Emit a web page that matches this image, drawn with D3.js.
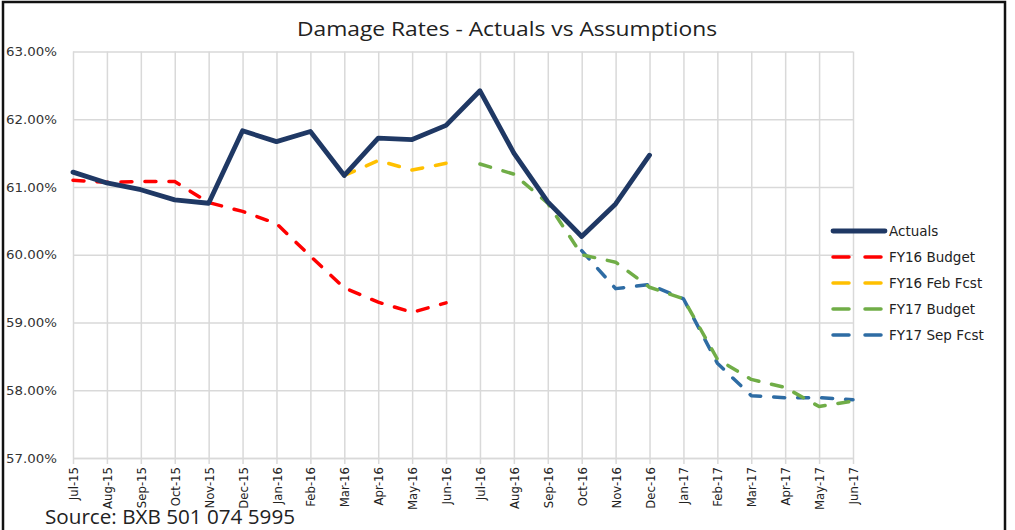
<!DOCTYPE html>
<html>
<head>
<meta charset="utf-8">
<script src="https://cdn.jsdelivr.net/npm/d3@7"></script>
<style>
	body { margin: 0; background: #fff; }
	svg { display: block; }
</style>
</head>
<body>
<svg id="chart" width="1015" height="530"></svg>
<script>
const months = ["Jul-15", "Aug-15", "Sep-15", "Oct-15", "Nov-15", "Dec-15", "Jan-16", "Feb-16",
	"Mar-16", "Apr-16", "May-16", "Jun-16", "Jul-16", "Aug-16", "Sep-16", "Oct-16", "Nov-16",
	"Dec-16", "Jan-17", "Feb-17", "Mar-17", "Apr-17", "May-17", "Jun-17"];

const actuals = [61.22, 61.06, 60.96, 60.81, 60.76, 61.83, 61.67, 61.82, 61.17, 61.72, 61.70, 61.91,
	62.42, 61.50, 60.78, 60.27, 60.75, 61.47, null, null, null, null, null, null];
const fy16Budget = [61.10, 61.07, 61.08, 61.08, 60.77, 60.64, 60.46, 59.98, 59.51, 59.30, 59.15, 59.29,
	null, null, null, null, null, null, null, null, null, null, null, null];
const fy16FebFcst = [null, null, null, null, null, null, null, null, 61.17, 61.39, 61.25, 61.35,
	null, null, null, null, null, null, null, null, null, null, null, null];
const fy17Budget = [null, null, null, null, null, null, null, null, null, null, null, null,
	61.34, 61.19, 60.76, 60.00, 59.89, 59.52, 59.35, 58.46, 58.16, 58.04, 57.76, 57.84];
const fy17SepFcst = [null, null, null, null, null, null, null, null, null, null, null, null,
	null, null, null, 60.06, 59.50, 59.56, 59.35, 58.40, 57.92, 57.89, 57.89, 57.86];

const yTicks = [57, 58, 59, 60, 61, 62, 63];

const series = [
	{ name: "Actuals", values: actuals, color: "#1f3864", width: 4.8, dash: null },
	{ name: "FY16 Budget", values: fy16Budget, color: "#ff0000", width: 3.5, dash: "11,13" },
	{ name: "FY16 Feb Fcst", values: fy16FebFcst, color: "#ffc000", width: 3.5, dash: "11,13" },
	{ name: "FY17 Budget", values: fy17Budget, color: "#70ad47", width: 3.5, dash: "11,13" },
	{ name: "FY17 Sep Fcst", values: fy17SepFcst, color: "#2e6ca4", width: 3.5, dash: "11,13" }
];

const svg = d3.select("#chart");
const plot = { left: 73, right: 853, top: 51.5, bottom: 458 };

const x = d3.scalePoint()
	.domain(months)
	.range([plot.left, plot.right]);

const y = d3.scaleLinear()
	.domain([57, 63])
	.range([plot.bottom, plot.top]);

// frame
svg.append("rect")
	.attr("x", 3).attr("y", 2)
	.attr("width", 1002).attr("height", 540)
	.attr("fill", "none")
	.attr("stroke", "#111")
	.attr("stroke-width", 2.5);

// title
svg.append("text")
	.attr("x", 297)
	.attr("y", 36)
	.attr("font-family", "'Open Sans', sans-serif")
	.attr("font-size", 20)
	.attr("textLength", 420)
	.attr("lengthAdjust", "spacingAndGlyphs")
	.attr("fill", "#222")
	.text("Damage Rates - Actuals vs Assumptions");

// horizontal gridlines
const yAxis = d3.axisLeft(y)
	.tickValues(yTicks)
	.tickSize(-(plot.right - plot.left))
	.tickPadding(16)
	.tickFormat(d => d3.format(".2f")(d) + "%");

const gy = svg.append("g")
	.attr("transform", `translate(${plot.left},0)`)
	.call(yAxis);
gy.select(".domain").remove();
gy.selectAll(".tick line")
	.attr("stroke", "#d9d9d9")
	.attr("stroke-width", 1.5);
gy.selectAll(".tick text")
	.attr("x", -67)
	.attr("text-anchor", "start")
	.attr("font-family", "'DejaVu Sans', Verdana, sans-serif")
	.attr("font-size", 13)
	.attr("textLength", 51)
	.attr("lengthAdjust", "spacingAndGlyphs")
	.attr("fill", "#333");

// vertical gridlines and month labels
const xAxis = d3.axisBottom(x)
	.tickSize(-(plot.bottom - plot.top))
	.tickSizeOuter(0);

const gx = svg.append("g")
	.attr("transform", `translate(0,${plot.bottom})`)
	.call(xAxis);
gx.select(".domain")
	.attr("stroke", "#d9d9d9")
	.attr("stroke-width", 1.5);
gx.selectAll(".tick line")
	.attr("stroke", "#d9d9d9")
	.attr("stroke-width", 1.5)
	.attr("y1", 6);
gx.selectAll(".tick text")
	.attr("transform", "rotate(-90)")
	.attr("x", -9)
	.attr("y", 0)
	.attr("dy", "0.35em")
	.attr("text-anchor", "end")
	.attr("font-family", "'Liberation Sans Narrow', 'DejaVu Sans Condensed', sans-serif")
	.attr("font-size", 13)
	.attr("fill", "#222");

// series lines
const line = d3.line()
	.defined(d => d.v != null)
	.x(d => x(d.m))
	.y(d => y(d.v));

const lines = svg.append("g");
series.slice().reverse().forEach(s => {
	const pts = months.map((m, i) => ({ m: m, v: s.values[i] }));
	lines.append("path")
		.datum(pts)
		.attr("d", line)
		.attr("fill", "none")
		.attr("stroke", s.color)
		.attr("stroke-width", s.width)
		.attr("stroke-linejoin", "round")
		.attr("stroke-linecap", "round")
		.attr("stroke-dasharray", s.dash);
});

// legend
const legend = svg.append("g")
	.attr("transform", "translate(833,231)");

series.forEach((s, i) => {
	const row = legend.append("g")
		.attr("transform", `translate(0,${i * 26})`);
	row.append("line")
		.attr("x1", 0).attr("x2", 52)
		.attr("stroke", s.color)
		.attr("stroke-width", s.width)
		.attr("stroke-linecap", "round")
		.attr("stroke-dasharray", s.dash ? "16,16" : null);
	row.append("text")
		.attr("x", 56)
		.attr("y", 0)
		.attr("dy", "0.35em")
		.attr("font-family", "'DejaVu Sans', Verdana, sans-serif")
		.attr("font-size", 13.5)
		.attr("fill", "#222")
		.text(s.name);
});

// source note
svg.append("text")
	.attr("x", 45)
	.attr("y", 524)
	.attr("font-family", "'Open Sans', sans-serif")
	.attr("font-size", 20)
	.attr("textLength", 250)
	.attr("lengthAdjust", "spacingAndGlyphs")
	.attr("fill", "#222")
	.text("Source: BXB 501 074 5995");
</script>
</body>
</html>
